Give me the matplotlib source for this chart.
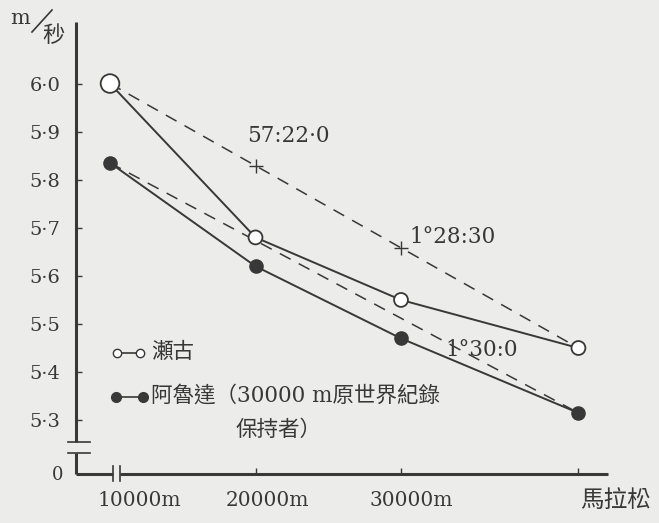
import numpy as np
import matplotlib
matplotlib.use('Agg')
import matplotlib.pyplot as plt
from matplotlib.lines import Line2D

# data
distances = [10000, 20000, 30000, 42195]
seko_speed = [6.00, 5.68, 5.55, 5.45]
aruda_speed = [5.835, 5.62, 5.47, 5.315]
split_dist = [20000, 30000]
split_labels = ['57:22·0', '1°28:30']
aruda_label = '1°30:0'
yticks = [5.3, 5.4, 5.5, 5.6, 5.7, 5.8, 5.9, 6.0]
ytick_labels = ['5·3', '5·4', '5·5', '5·6', '5·7', '5·8', '5·9', '6·0']
xtick_labels = ['10000m', '20000m', '30000m', '馬拉松']
legend_labels = ['瀬古', '阿魯達（30000 m原世界紀錄', '保持者）']

W, H = 659, 523
bg = '#ececeb'
ink = '#383838'
fam = ['DejaVu Serif', 'Noto Sans CJK TC']
plt.rcParams['font.family'] = fam


def fp(px, py):
    # pixel position -> figure fraction
    return px / W, 1 - py / H


fig = plt.figure(figsize=(W / 100, H / 100), dpi=100, facecolor=bg)
ax = fig.add_axes([76 / W, (H - 474) / H, (608 - 76) / W, (474 - 22) / H])
ax.patch.set_alpha(0)
xmin, xmax = 7663, 44227
ymin, ymax = 5.188, 6.128
ax.set_xlim(xmin, xmax)
ax.set_ylim(ymin, ymax)
for s in ax.spines.values():
    s.set_visible(False)

# axes with breaks
ybrk_hi, ybrk_lo = 5.254, 5.231
xbrk_lo, xbrk_hi = 10206, 10687
kw = dict(color=ink, lw=2.2, clip_on=False, solid_capstyle='butt')
ax.plot([xmin, xmin], [ybrk_hi, ymax], **kw)
ax.plot([xmin, xmin], [ymin, ybrk_lo], **kw)
ax.plot([xmin, xbrk_lo], [ymin, ymin], **kw)
ax.plot([xbrk_hi, xmax], [ymin, ymin], **kw)
ytr = ax.get_yaxis_transform()
xtr = ax.get_xaxis_transform()
for yb in [ybrk_hi, ybrk_lo]:
    ax.plot([-0.015, 0.026], [yb, yb], transform=ytr, color=ink, lw=1.2, clip_on=False)
for xb in [xbrk_lo, xbrk_hi]:
    ax.plot([xb, xb], [-0.015, 0.018], transform=xtr, color=ink, lw=1.2, clip_on=False)

ax.set_yticks(yticks)
ax.set_yticklabels(ytick_labels, fontsize=14, color=ink)
ax.set_xticks(distances[1:])
ax.set_xticklabels([])
ax.tick_params(axis='both', direction='in', length=4, width=1, color=ink, pad=11)

# dashed even-pace lines
dash = (0, (8, 6))
ax.plot([distances[0], distances[-1]], [seko_speed[0], seko_speed[-1]],
        color=ink, lw=1.1, ls=dash)
ax.plot([distances[0], distances[-1]], [aruda_speed[0], aruda_speed[-1]],
        color=ink, lw=1.1, ls=dash)
split_y = np.interp(split_dist, [distances[0], distances[-1]],
                    [seko_speed[0], seko_speed[-1]])
ax.plot(split_dist, split_y, ls='none', marker='+', ms=10, mew=1, color=ink)

# series
ax.plot(distances, seko_speed, color=ink, lw=1.4, zorder=3)
ax.plot(distances, aruda_speed, color=ink, lw=1.4, zorder=3)
sizes = [180, 100, 100, 100]
ax.scatter(distances, seko_speed, s=sizes, facecolor='white', edgecolor=ink,
           lw=1.3, zorder=4)
ax.scatter(distances, aruda_speed, s=90, color=ink, zorder=4)

# labels
fig.text(*fp(247, 136), split_labels[0], fontsize=15.5, color=ink, va='center')
fig.text(*fp(409, 237), split_labels[1], fontsize=15.5, color=ink, va='center')
fig.text(*fp(445, 350), aruda_label, fontsize=15.5, color=ink, va='center')

xlab_pos = [139, 267, 411, 616]
for xp, lab in zip(xlab_pos[:3], xtick_labels[:3]):
    fig.text(*fp(xp, 500), lab, fontsize=14.5, color=ink, ha='center', va='center')
fig.text(*fp(xlab_pos[3], 500), xtick_labels[3], fontsize=17, color=ink,
         ha='center', va='center')
fig.text(*fp(58, 475), '0', fontsize=13, color=ink, ha='center', va='center')

fig.text(*fp(20, 18), 'm', fontsize=15, color=ink, ha='center', va='center')
fig.add_artist(Line2D([32 / W, 52 / W], [1 - 32 / H, 1 - 10 / H], color=ink, lw=1.2))
fig.text(*fp(53, 36), '秒', fontsize=16, color=ink, ha='center', va='center')

# legend
fig.add_artist(Line2D([117 / W, 140 / W], [1 - 353 / H] * 2, color=ink, lw=1.2,
                      marker='o', ms=6, mfc='white', mec=ink))
fig.text(*fp(151, 352), legend_labels[0], fontsize=15.5, color=ink, va='center')
fig.add_artist(Line2D([116 / W, 143 / W], [1 - 397 / H] * 2, color=ink, lw=1.2,
                      marker='o', ms=7, mfc=ink, mec=ink))
fig.text(*fp(151, 396), legend_labels[1], fontsize=15.5, color=ink, va='center')
fig.text(*fp(236, 430), legend_labels[2], fontsize=15.5, color=ink, va='center')

fig.savefig('out.png', dpi=100, facecolor=bg)
